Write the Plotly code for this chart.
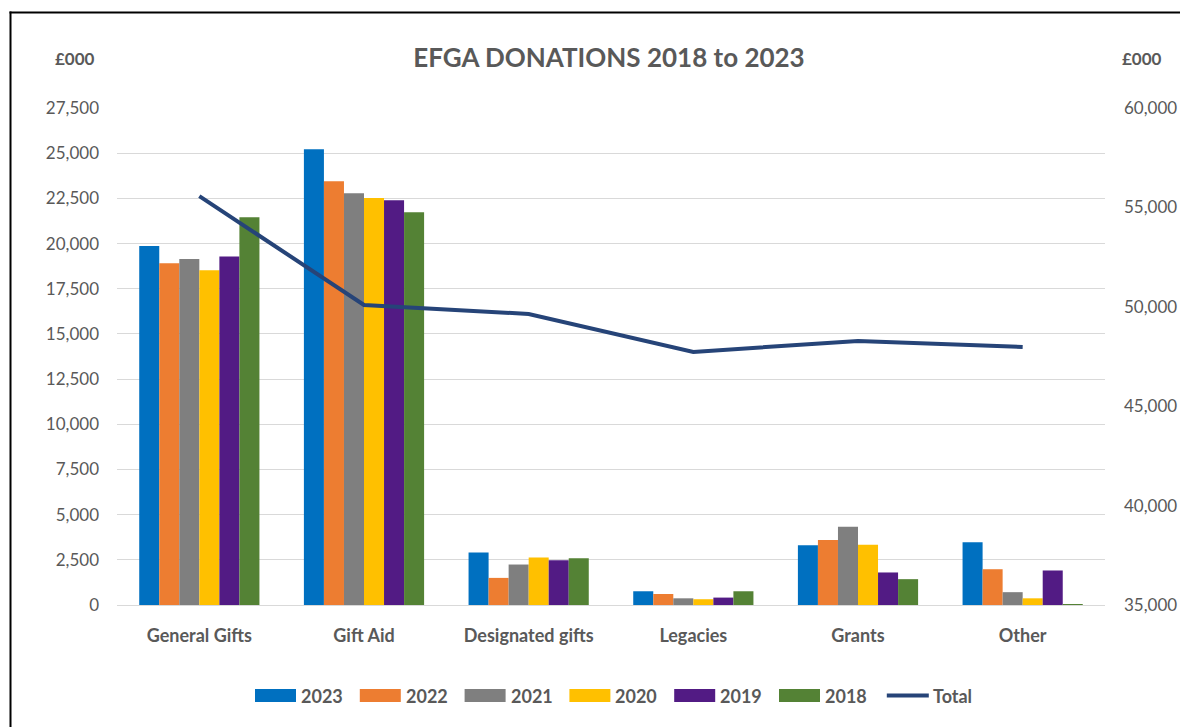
import plotly.graph_objects as go
from plotly.subplots import make_subplots

categories = ["General Gifts", "Gift Aid", "Designated gifts", "Legacies", "Grants", "Other"]
years = ["2023", "2022", "2021", "2020", "2019", "2018"]
v2023 = [19870, 25220, 2910, 760, 3300, 3470]
v2022 = [18910, 23450, 1500, 610, 3590, 1980]
v2021 = [19150, 22780, 2240, 370, 4330, 710]
v2020 = [18520, 22520, 2630, 320, 3330, 370]
v2019 = [19280, 22400, 2480, 410, 1800, 1910]
v2018 = [21450, 21730, 2590, 760, 1430, 20]
total = [55570, 50090, 49640, 47730, 48280, 47980]
left_ticks = list(range(0, 27501, 2500))
right_ticks = list(range(35000, 60001, 5000))

series = [v2023, v2022, v2021, v2020, v2019, v2018]
colors = ["#0070C0", "#ED7D31", "#7F7F7F", "#FFC000", "#521B84", "#548235"]
line_color = "#264478"

W, H = 1195, 727
L, R, T, B = 117, 1105, 108, 605
grey = "#595959"
font = "Lato, Carlito, 'Liberation Sans', sans-serif"

fig = make_subplots(specs=[[{"secondary_y": True}]])
for name, vals, c in zip(years, series, colors):
    fig.add_trace(go.Bar(name=name, x=categories, y=vals, marker_color=c,
                         marker_line_width=0, showlegend=False), secondary_y=False)
fig.add_trace(go.Scatter(name="Total", x=categories, y=total, mode="lines",
                         line=dict(color=line_color, width=4), showlegend=False),
              secondary_y=True)

def px2paper_x(p):
    return (p - L) / (R - L)

def px2paper_y(p):
    return (B - p) / (B - T)

fig.update_layout(
    width=W, height=H,
    margin=dict(l=L, r=W - R, t=T, b=H - B, autoexpand=False),
    paper_bgcolor="white", plot_bgcolor="white",
    barmode="group", bargap=0.27, bargroupgap=0,
    font=dict(family=font, color=grey, size=16),
    title=dict(text="<b>EFGA DONATIONS 2018 to 2023</b>", x=px2paper_x(609), xref="paper",
               xanchor="center", y=1 - 58 / H, yanchor="middle",
               font=dict(size=26, color=grey, family=font)),
    showlegend=False,
)
fig.update_xaxes(domain=[0, 1], showgrid=False, showline=False, zeroline=False, ticks="",
                 tickfont=dict(size=18, color=grey, family=font, weight="bold"),
                 ticklabelstandoff=18)
fig.update_yaxes(range=[0, 27500], tickvals=left_ticks, tickformat=",",
                 showgrid=True, gridcolor="#D9D9D9", gridwidth=1.2,
                 zeroline=True, zerolinecolor="#D9D9D9", zerolinewidth=1.2,
                 showline=False, ticks="", ticklabelstandoff=17,
                 tickfont=dict(size=17, color=grey, family=font),
                 secondary_y=False)
fig.update_yaxes(range=[35000, 60000], tickvals=right_ticks, tickformat=",",
                 showgrid=False, zeroline=False, showline=False, ticks="",
                 ticklabelstandoff=18,
                 tickfont=dict(size=17, color=grey, family=font),
                 secondary_y=True)

for xp in (75, 1142):
    fig.add_annotation(text="<b>£000</b>", xref="paper", yref="paper",
                       x=px2paper_x(xp), y=px2paper_y(58), showarrow=False,
                       xanchor="center", yanchor="middle",
                       font=dict(size=17, color=grey, family=font))

# custom legend (wide swatches like the original)
leg_x0, pitch, sw_w, leg_y = 255, 104.8, 41, 695.5
for i, (name, c) in enumerate(zip(years, colors)):
    x0 = leg_x0 + pitch * i
    fig.add_shape(type="rect", xref="paper", yref="paper",
                  x0=px2paper_x(x0), x1=px2paper_x(x0 + sw_w),
                  y0=px2paper_y(leg_y + 6.5), y1=px2paper_y(leg_y - 6.5),
                  line=dict(width=0), fillcolor=c)
    fig.add_annotation(text=f"<b>{name}</b>", xref="paper", yref="paper",
                       x=px2paper_x(x0 + sw_w + 3), y=px2paper_y(leg_y),
                       xanchor="left", yanchor="middle", showarrow=False,
                       font=dict(size=18, color=grey, family=font))
x0 = leg_x0 + pitch * len(years)
fig.add_shape(type="line", xref="paper", yref="paper",
              x0=px2paper_x(x0 + 3), x1=px2paper_x(x0 + 45),
              y0=px2paper_y(leg_y), y1=px2paper_y(leg_y),
              line=dict(color=line_color, width=4))
fig.add_annotation(text="<b>Total</b>", xref="paper", yref="paper",
                   x=px2paper_x(x0 + 47), y=px2paper_y(leg_y),
                   xanchor="left", yanchor="middle", showarrow=False,
                   font=dict(size=18, color=grey, family=font))

# chart frame (top and left edges visible)
fig.add_shape(type="line", xref="paper", yref="paper",
              x0=px2paper_x(9.5), x1=px2paper_x(1180),
              y0=px2paper_y(12.5), y1=px2paper_y(12.5),
              line=dict(color="black", width=2), layer="above")
fig.add_shape(type="line", xref="paper", yref="paper",
              x0=px2paper_x(10.5), x1=px2paper_x(10.5),
              y0=px2paper_y(11.5), y1=px2paper_y(H),
              line=dict(color="black", width=2), layer="above")

fig.write_html("out.html", config={"displayModeBar": False},
               post_script="document.body.style.margin='0';document.body.style.overflow='hidden';")
